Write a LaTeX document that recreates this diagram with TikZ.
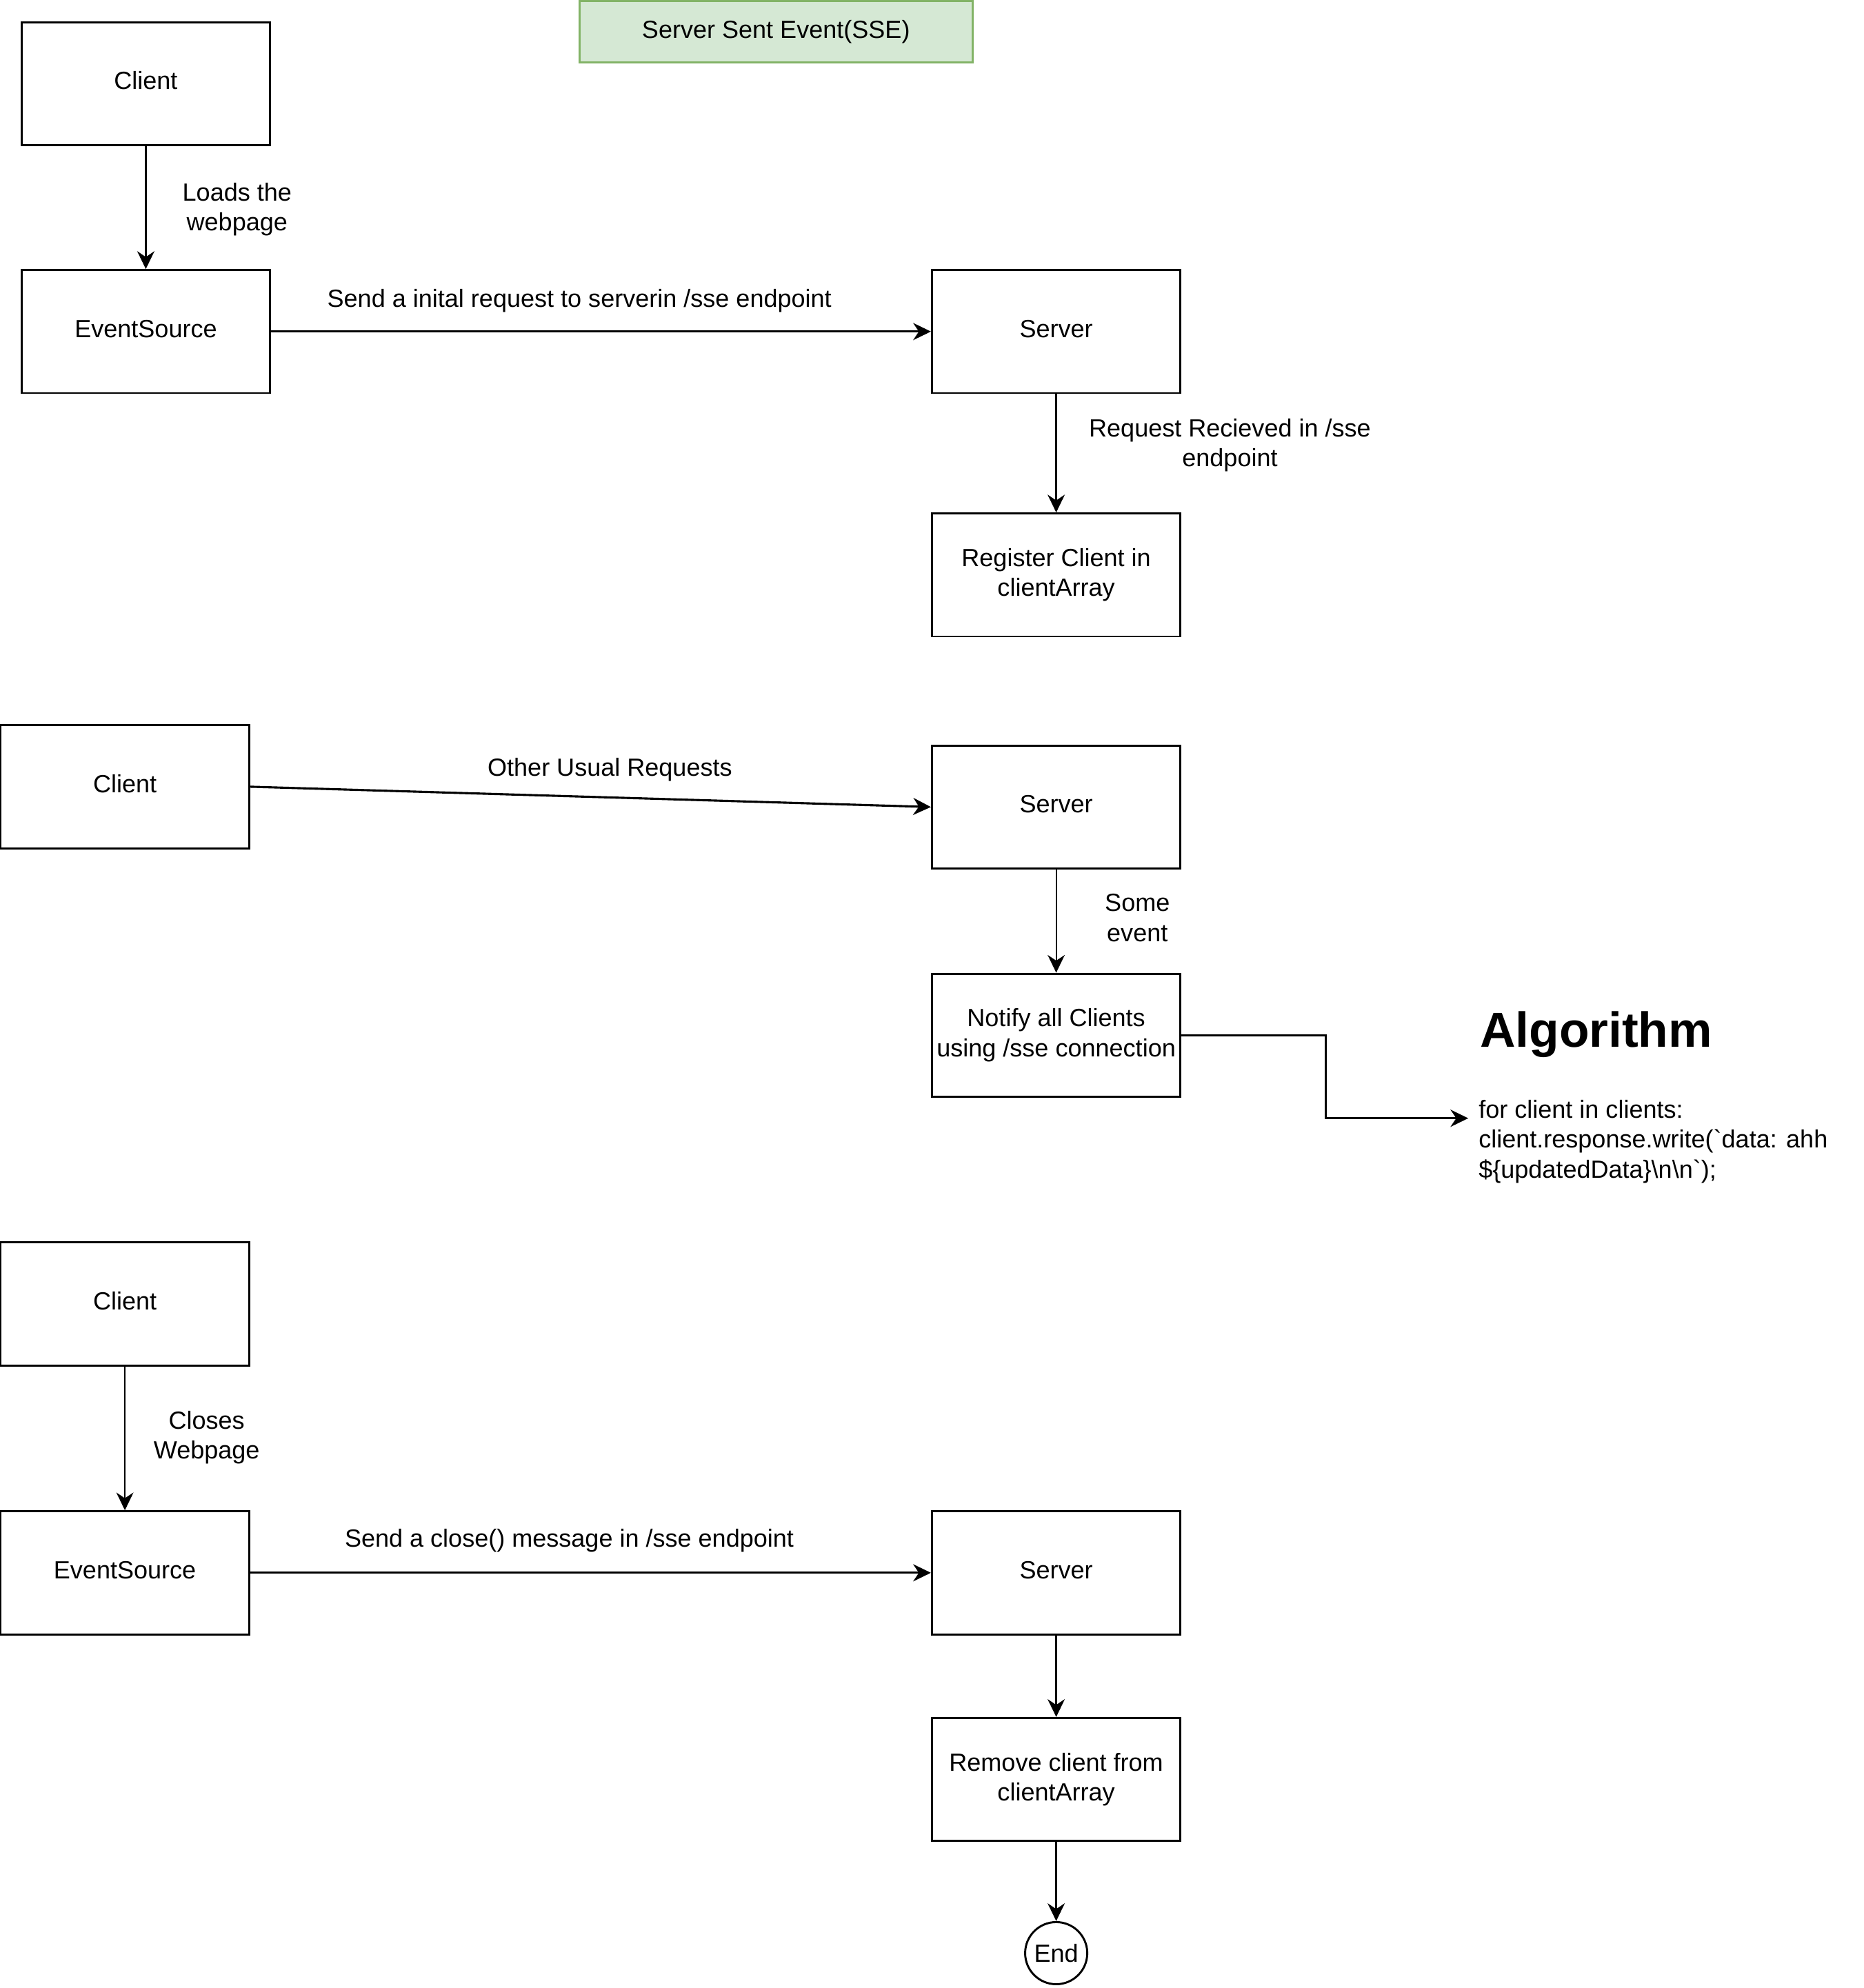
\documentclass[tikz,border=0pt]{standalone}
\usepackage{fontspec}
\setmainfont{Liberation Sans}
% plain family, no TeX ligatures, so the backtick stays a grave accent
\newfontfamily\codefont{Liberation Sans}
\usetikzlibrary{arrows.meta}
\definecolor{titlefill}{HTML}{D5E8D4}
\definecolor{titledraw}{HTML}{82B366}
\begin{document}
\begin{tikzpicture}[x=1pt,y=-1pt,
  every node/.style={font=\fontsize{19.6}{23.5}\selectfont},
  box/.style={draw, line width=1.6pt, minimum width=196pt, minimum height=97pt,
    inner sep=2pt, align=center},
  oneline/.style={text height=14.3pt, text depth=4.9pt},
  lbl/.style={align=center, inner sep=0pt},
  arr/.style={line width=1.7pt, -{Stealth[length=14pt,width=13.5pt,inset=4.5pt]}},
  thinarr/.style={arr, line width=1.1pt}]
\useasboundingbox (0,0) rectangle (1470,1568);

% title
\node[draw=titledraw, fill=titlefill, line width=1.6pt, minimum width=310pt,
  minimum height=48pt, inner sep=0pt] (title) at (612,25) {Server Sent Event(SSE)};

% registration
\node[box, oneline] (c1)  at (115,66)    {Client};
\node[box, oneline] (es1) at (115,261.5) {EventSource};
\node[box, oneline] (s1)  at (833,261.5) {Server};
\node[box] (reg) at (833,453.5) {Register Client in\\clientArray};

% broadcasting
\node[box, oneline] (c2)  at (98.5,620.5) {Client};
\node[box, oneline] (s2)  at (833,636.5)  {Server};
\node[box] (ntf) at (833,816.5)  {Notify all Clients\\using /sse connection};

% closing
\node[box, oneline] (c3)  at (98.5,1028.5) {Client};
\node[box, oneline] (es3) at (98.5,1240.5) {EventSource};
\node[box, oneline] (s3)  at (833,1240.5)  {Server};
\node[box] (rm)  at (833,1403.5)  {Remove client from\\clientArray};
\node[circle, draw, line width=1.6pt, minimum size=49pt, inner sep=0pt] (end) at (833,1540.5) {End};

% algorithm note
\node[anchor=base west, inner sep=0pt, font=\fontsize{38.8}{46}\selectfont\bfseries]
  (algtitle) at (1167,826) {Algorithm};
\node[anchor=base west, inner sep=0pt, align=left,
  font=\codefont\fontsize{19.6}{23.5}\selectfont] (code) at (1166,929)
  {for client in clients:\\client.response.write(\symbol{96}data: ahh\\\$\{updatedData\}\textbackslash n\textbackslash n\symbol{96});};
\coordinate (algo) at (1158,882);

% edge labels
\node[lbl] (l1) at (187,165)  {Loads the\\webpage};
\node[lbl] (l2) at (457,237)  {Send a inital request to serverin /sse endpoint};
\node[lbl] (l3) at (970,351)  {Request Recieved in /sse\\endpoint};
\node[lbl] (l4) at (481,607)  {Other Usual Requests};
\node[lbl] (l5) at (897,724)  {Some\\event};
\node[lbl] (l6) at (163,1134) {Closes\\Webpage};
\node[lbl] (l7) at (449,1215) {Send a close() message in /sse endpoint};

% connectors
\draw[arr] (c1) -- (es1);
\draw[arr] (es1) -- (s1);
\draw[arr] (s1) -- (reg);
\draw[arr] (c2.east) -- (s2.west);
\draw[thinarr] (s2) -- (ntf);
\draw[arr] (ntf.east) -- ++(114,0) |- (algo);
\draw[thinarr] (c3) -- (es3);
\draw[arr] (es3) -- (s3);
\draw[arr] (s3) -- (rm);
\draw[arr] (rm) -- (end);
\end{tikzpicture}
\end{document}
